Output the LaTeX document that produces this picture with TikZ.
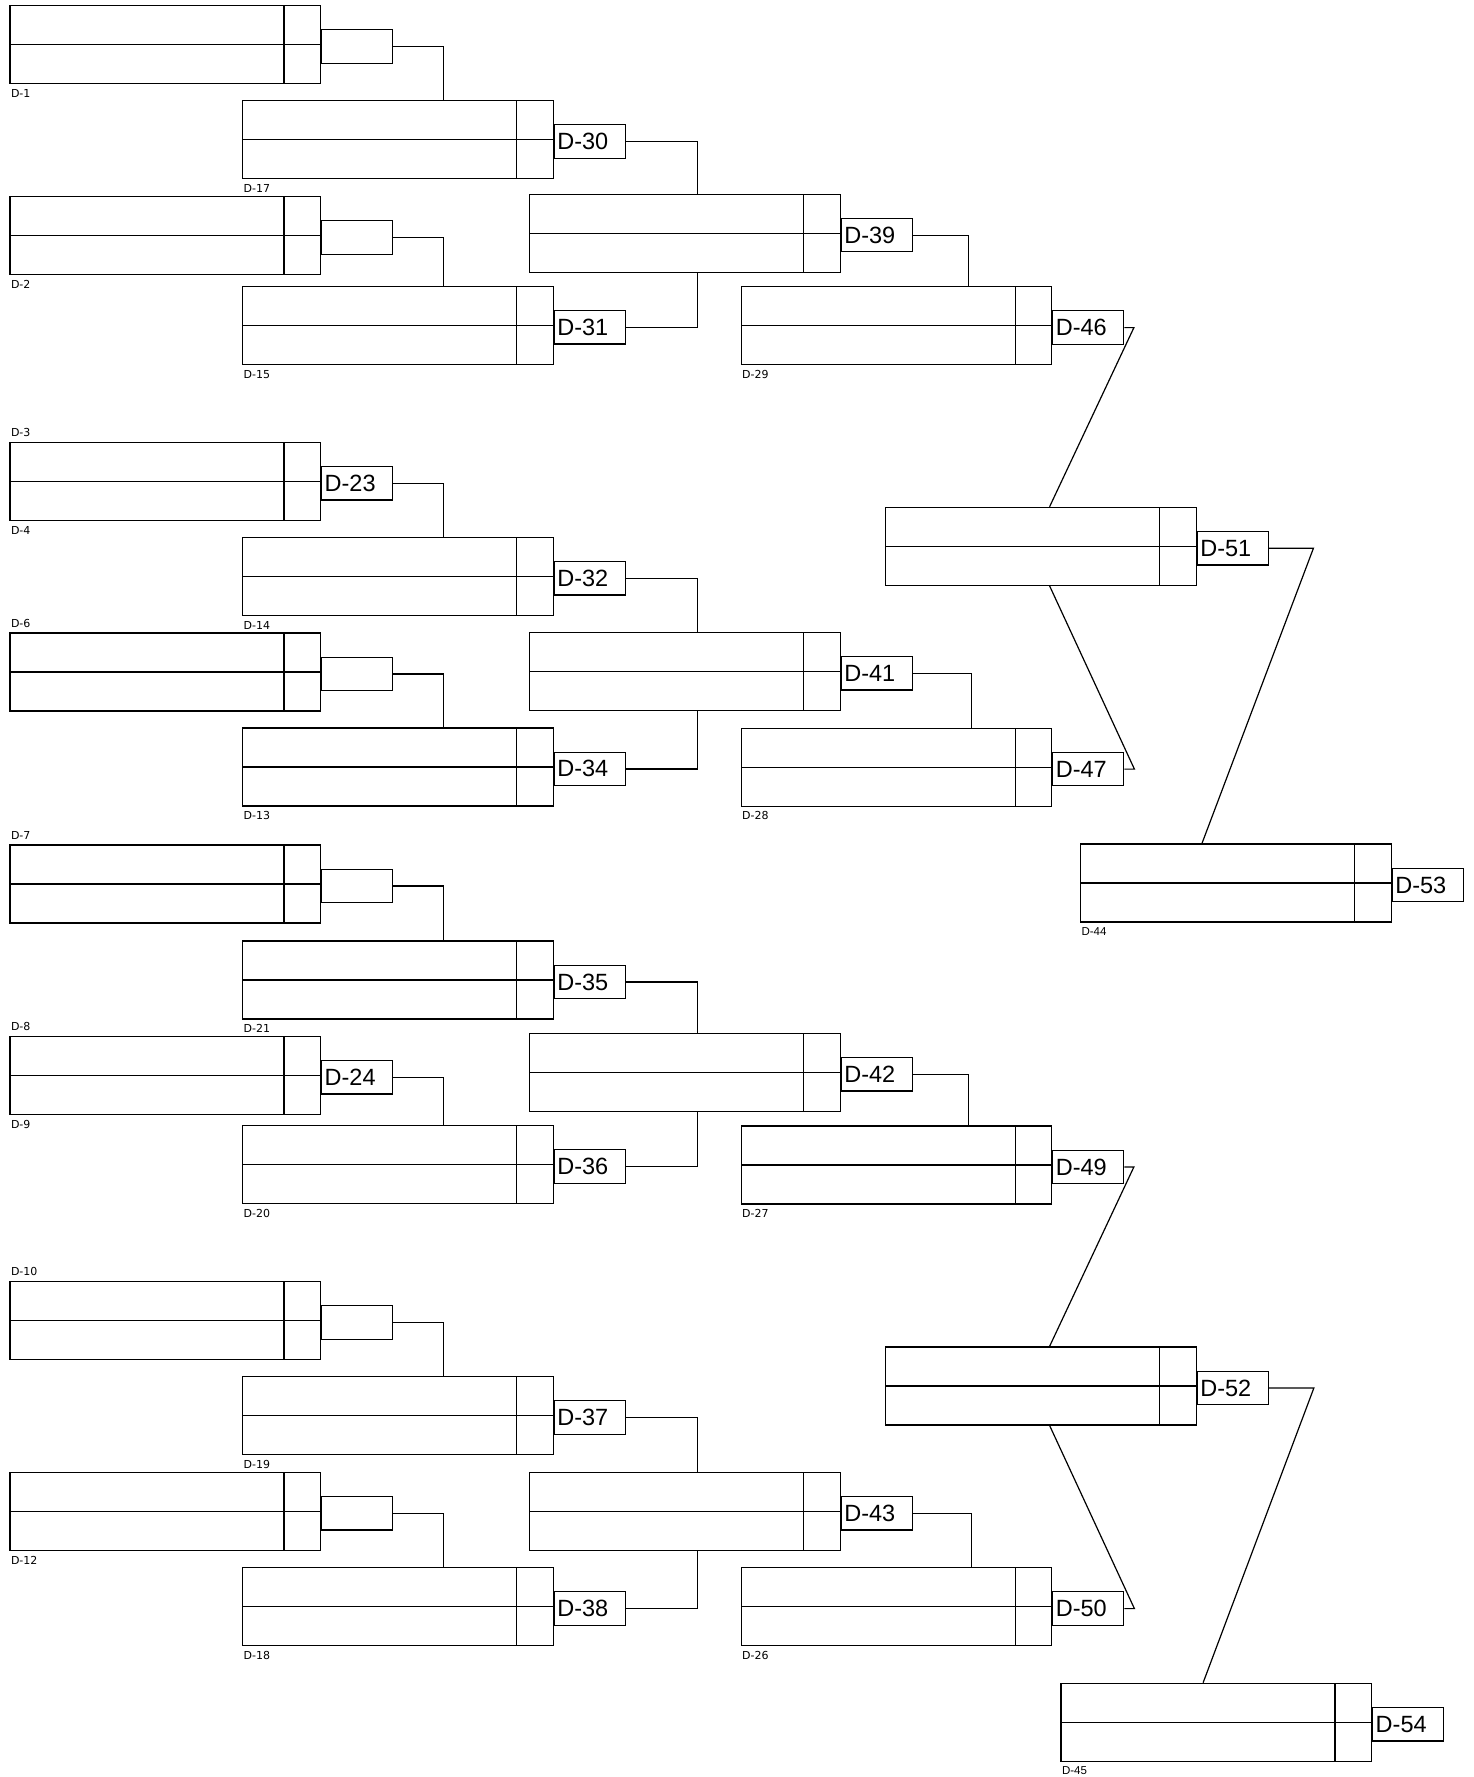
\documentclass[tikz,border=0pt]{standalone}
\usepackage{fontspec}
\setmainfont{Liberation Sans}
\newfontfamily\seedfont{DejaVu Sans}
\usetikzlibrary{positioning}

\begin{document}
\begin{tikzpicture}[
    x=1pt, y=-1pt,
    line width=1.2pt,
    slot/.style={
        draw,
        anchor=north west,
        minimum width=310.5pt,
        minimum height=78pt,
        inner sep=0pt,
        path picture={
            \draw ([xshift=-36.5pt]path picture bounding box.north east) -- ([xshift=-36.5pt]path picture bounding box.south east);
            \draw (path picture bounding box.west) -- (path picture bounding box.east);
        }
    },
    tag/.style={
        draw,
        minimum height=33.5pt,
        text width=65pt,
        inner sep=3pt,
        align=left,
        yshift=-2pt,
        font=\fontsize{23.5}{26}\selectfont
    },
    seed/.style={inner sep=1pt, font=\seedfont\fontsize{11}{13}\selectfont},
    seedwide/.style={inner sep=1pt, font=\fontsize{11.5}{13}\selectfont},
    wire/.style={line width=1.2pt}
]
    \useasboundingbox (0,0) rectangle (1474,1777);

    % Block 1
    \node[slot] (box1) at (9.4, 5) {};
    \node[tag, right=0pt of box1] (tag1) {};
    \node[slot] (box30) at (242, 100) {};
    \node[tag, right=0pt of box30] (tag30) {D-30};
    \node[slot] (box2) at (9.4, 196) {};
    \node[tag, right=0pt of box2] (tag2) {};
    \node[slot] (box31) at (242, 285.7) {};
    \node[tag, right=0pt of box31] (tag31) {D-31};
    \node[slot] (box39) at (529, 193.5) {};
    \node[tag, right=0pt of box39] (tag39) {D-39};
    \node[slot] (box46) at (740.5, 286) {};
    \node[tag, right=0pt of box46] (tag46) {D-46};

    % Block 2
    \node[slot] (box23) at (9.4, 441.7) {};
    \node[tag, right=0pt of box23] (tag23) {D-23};
    \node[slot] (box32) at (242, 536.7) {};
    \node[tag, right=0pt of box32] (tag32) {D-32};
    \node[slot] (box6) at (9.4, 632.3) {};
    \node[tag, right=0pt of box6] (tag6) {};
    \node[slot] (box34) at (242, 727.3) {};
    \node[tag, right=0pt of box34] (tag34) {D-34};
    \node[slot] (box41) at (529, 631.7) {};
    \node[tag, right=0pt of box41] (tag41) {D-41};
    \node[slot] (box47) at (740.5, 727.5) {};
    \node[tag, right=0pt of box47] (tag47) {D-47};
    \node[slot] (box51) at (885, 506.7) {};
    \node[tag, right=0pt of box51] (tag51) {D-51};
    \node[slot] (box53) at (1080, 843.3) {};
    \node[tag, right=0pt of box53] (tag53) {D-53};

    % Block 3
    \node[slot] (box7) at (9.4, 844.3) {};
    \node[tag, right=0pt of box7] (tag7) {};
    \node[slot] (box35) at (242, 940.3) {};
    \node[tag, right=0pt of box35] (tag35) {D-35};
    \node[slot] (box24) at (9.4, 1035.7) {};
    \node[tag, right=0pt of box24] (tag24) {D-24};
    \node[slot] (box36) at (242, 1125) {};
    \node[tag, right=0pt of box36] (tag36) {D-36};
    \node[slot] (box42) at (529, 1032.7) {};
    \node[tag, right=0pt of box42] (tag42) {D-42};
    \node[slot] (box49) at (740.5, 1125.3) {};
    \node[tag, right=0pt of box49] (tag49) {D-49};
    \node[slot] (box52) at (885, 1346.3) {};
    \node[tag, right=0pt of box52] (tag52) {D-52};

    % Block 4
    \node[slot] (box10) at (9.4, 1281) {};
    \node[tag, right=0pt of box10] (tag10) {};
    \node[slot] (box37) at (242, 1376) {};
    \node[tag, right=0pt of box37] (tag37) {D-37};
    \node[slot] (box12) at (9.4, 1471.7) {};
    \node[tag, right=0pt of box12] (tag12) {};
    \node[slot] (box38) at (242, 1567) {};
    \node[tag, right=0pt of box38] (tag38) {D-38};
    \node[slot] (box43) at (529, 1471.7) {};
    \node[tag, right=0pt of box43] (tag43) {D-43};
    \node[slot] (box50) at (740.5, 1567) {};
    \node[tag, right=0pt of box50] (tag50) {D-50};
    \node[slot] (box54) at (1060.4, 1682.7) {};
    \node[tag, right=0pt of box54] (tag54) {D-54};

    % Seed labels
    \node[seed, below right=3.5pt and 0pt of box1.south west] (s1) {D-1};
    \node[seed, below right=3.5pt and 0pt of box30.south west] (s17) {D-17};
    \node[seed, below right=3.5pt and 0pt of box2.south west] (s2) {D-2};
    \node[seed, below right=3.5pt and 0pt of box31.south west] (s15) {D-15};
    \node[seed, below right=3.5pt and 0pt of box46.south west] (s29) {D-29};
    \node[seed, above right=3.5pt and 0pt of box23.north west] (s3) {D-3};
    \node[seed, below right=3.5pt and 0pt of box23.south west] (s4) {D-4};
    \node[seed, below right=3.5pt and 0pt of box32.south west] (s14) {D-14};
    \node[seed, above right=3.5pt and 0pt of box6.north west] (s6) {D-6};
    \node[seed, below right=3.5pt and 0pt of box34.south west] (s13) {D-13};
    \node[seed, below right=3.5pt and 0pt of box47.south west] (s28) {D-28};
    \node[seedwide, below right=3.5pt and 0pt of box53.south west] (s44) {D-44};
    \node[seed, above right=3.5pt and 0pt of box7.north west] (s7) {D-7};
    \node[seed, below right=3.5pt and 0pt of box35.south west] (s21) {D-21};
    \node[seed, above right=3.5pt and 0pt of box24.north west] (s8) {D-8};
    \node[seed, below right=3.5pt and 0pt of box24.south west] (s9) {D-9};
    \node[seed, below right=3.5pt and 0pt of box36.south west] (s20) {D-20};
    \node[seed, below right=3.5pt and 0pt of box49.south west] (s27) {D-27};
    \node[seed, above right=3.5pt and 0pt of box10.north west] (s10) {D-10};
    \node[seed, below right=3.5pt and 0pt of box37.south west] (s19) {D-19};
    \node[seed, below right=3.5pt and 0pt of box12.south west] (s12) {D-12};
    \node[seed, below right=3.5pt and 0pt of box38.south west] (s18) {D-18};
    \node[seed, below right=3.5pt and 0pt of box50.south west] (s26) {D-26};
    \node[seedwide, below right=3.5pt and 0pt of box54.south west] (s45) {D-45};

    % Winner lines
    \draw[wire] (tag1.east) -| ([xshift=45.75pt]box30.north);
    \draw[wire] (tag2.east) -| ([xshift=45.75pt]box31.north);
    \draw[wire] (tag30.east) -| ([xshift=12.75pt]box39.north);
    \draw[wire] (tag31.east) -| ([xshift=12.75pt]box39.south);
    \draw[wire] (tag39.east) -| ([xshift=72.5pt]box46.north);

    \draw[wire] (tag23.east) -| ([xshift=45.75pt]box32.north);
    \draw[wire] (tag6.east) -| ([xshift=45.75pt]box34.north);
    \draw[wire] (tag32.east) -| ([xshift=13pt]box41.north);
    \draw[wire] (tag34.east) -| ([xshift=13pt]box41.south);
    \draw[wire] (tag41.east) -| ([xshift=75.5pt]box47.north);

    \draw[wire] (tag7.east) -| ([xshift=45.75pt]box35.north);
    \draw[wire] (tag24.east) -| ([xshift=45.75pt]box36.north);
    \draw[wire] (tag35.east) -| ([xshift=13pt]box42.north);
    \draw[wire] (tag36.east) -| ([xshift=13pt]box42.south);
    \draw[wire] (tag42.east) -| ([xshift=72.5pt]box49.north);

    \draw[wire] (tag10.east) -| ([xshift=45.75pt]box37.north);
    \draw[wire] (tag12.east) -| ([xshift=45.75pt]box38.north);
    \draw[wire] (tag37.east) -| ([xshift=13pt]box43.north);
    \draw[wire] (tag38.east) -| ([xshift=13pt]box43.south);
    \draw[wire] (tag43.east) -| ([xshift=75.5pt]box50.north);

    % Final rounds
    \draw[wire] (tag46.east) -- ++(9.5,0) -- ([xshift=8.75pt]box51.north);
    \draw[wire] (tag47.east) -- ++(10,0) -- ([xshift=8.75pt]box51.south);
    \draw[wire] (tag51.east) -- ++(44.5,0) -- ([xshift=-33.85pt]box53.north);
    \draw[wire] (tag49.east) -- ++(9.5,0) -- ([xshift=8.75pt]box52.north);
    \draw[wire] (tag50.east) -- ++(10,0) -- ([xshift=8.75pt]box52.south);
    \draw[wire] (tag52.east) -- ++(45,0) -- ([xshift=-13.15pt]box54.north);
\end{tikzpicture}
\end{document}
